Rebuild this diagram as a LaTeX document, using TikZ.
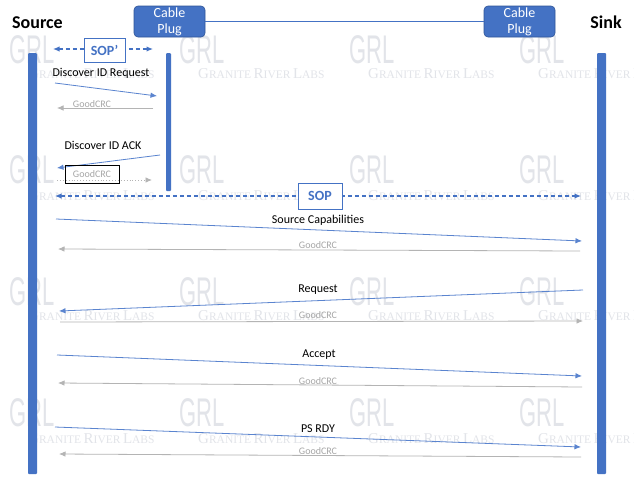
\documentclass[tikz,border=0pt]{standalone}
\usepackage{fontspec}
\setmainfont{Carlito}
\newfontfamily\wmsans{Liberation Sans}
\newfontfamily\wmserif{Liberation Serif}
\usetikzlibrary{arrows.meta}
\definecolor{ublue}{HTML}{4472C4}
\definecolor{mblue}{HTML}{5A84CF}
\definecolor{plugedge}{HTML}{2F5597}
\definecolor{crcgray}{HTML}{A6A6A6}
\definecolor{crcline}{HTML}{B4B4B4}
\definecolor{wmcol}{RGB}{226,228,233}
\newcommand\wmcaps{\wmserif{\fontsize{15}{15}\selectfont G}{\fontsize{11.5}{12}\selectfont RANITE} {\fontsize{15}{15}\selectfont R}{\fontsize{11.5}{12}\selectfont IVER} {\fontsize{15}{15}\selectfont L}{\fontsize{11.5}{12}\selectfont ABS}}
\tikzset{
  wmgrl/.style={font=\wmsans\fontsize{40}{40}\selectfont, text=wmcol, inner sep=0},
  wmcap/.style={text=wmcol, inner sep=0, anchor=west},
  plugbox/.style={draw=plugedge, line width=0.6pt, fill=ublue, rounded corners=4pt, text=white,
    font=\fontsize{14}{16}\selectfont, align=center, minimum width=71pt, minimum height=31pt, inner sep=0},
  titlelbl/.style={font=\bfseries\fontsize{18}{20}\selectfont, inner sep=0},
  lifeline/.style={fill=ublue, draw=none, rounded corners=1pt, inner sep=0},
  msg/.style={mblue, line width=0.8pt, -{Latex[length=6.5pt,width=5.5pt]}},
  crc/.style={crcline, line width=0.8pt, -{Latex[length=6.5pt,width=5.5pt]}},
  crcdot/.style={crcline, line width=0.9pt, dotted, -{Latex[length=6.5pt,width=5.5pt]}},
  msglbl/.style={font=\fontsize{12}{14}\selectfont, inner sep=0},
  crclbl/.style={font=\fontsize{10}{12}\selectfont, text=crcgray, inner sep=0},
  sopline/.style={ublue, line width=1.2pt, dash pattern=on 4pt off 3pt,
    {Latex[length=6.5pt,width=5.5pt]}-{Latex[length=6.5pt,width=5.5pt]}},
  sopbox/.style={draw=ublue, line width=1pt, fill=white, text=ublue,
    font=\bfseries\fontsize{14}{16}\selectfont, inner sep=0},
  crcbox/.style={draw=black, line width=0.8pt, minimum width=54pt, minimum height=18pt, inner sep=0,
    font=\fontsize{10}{12}\selectfont, text=crcgray}
}
\begin{document}
\begin{tikzpicture}[x=1pt,y=-1pt]
\useasboundingbox[fill=white] (0,0) rectangle (634,477);
% watermarks
\foreach \c in {0,1,2,3}{
  \foreach \r/\gy/\cy in {0/50/74, 1/170/196, 2/292/316, 3/413/439}{
    \node[wmgrl] (grl-\c-\r) at ({32+170*\c},\gy) {\scalebox{0.55}[1]{GRL}};
    \node[wmcap] (cap-\c-\r) at ({28+170*\c},\cy) {\wmcaps};
  }
}
% titles and cable plugs
\node[titlelbl] (src) at (37.5,23) {Source};
\node[titlelbl] (snk) at (606,22) {Sink};
\node[plugbox] (plugL) at (169.5,21.5) {Cable\\Plug};
\node[plugbox] (plugR) at (519.5,21.5) {Cable\\Plug};
\draw[ublue, line width=1.6pt] (plugL.east) -- (plugR.west);
% lifelines
\node[lifeline, minimum width=9pt, minimum height=421pt] (srcline) at (32.5,263.5) {};
\node[lifeline, minimum width=5pt, minimum height=138pt] (plugline) at (168.5,122) {};
\node[lifeline, minimum width=9pt, minimum height=421pt] (snkline) at (601.5,263.5) {};
% SOP'
\coordinate (sp1) at (53,49); \coordinate (sp2) at (153,49);
\draw[sopline] (sp1) -- (sp2);
\node[sopbox, minimum width=41pt, minimum height=24pt] (sopp) at (104.5,50) {SOP’};
% Discover ID Request
\coordinate (m1s) at (55,83); \coordinate (m1e) at (157,96);
\draw[msg] (m1s) -- (m1e);
\node[msglbl] (l1) at (101,73) {Discover ID Request};
\coordinate (c1s) at (153,108); \coordinate (c1e) at (57,108);
\draw[crc] (c1s) -- (c1e);
\node[crclbl] (cl1) at (92,104) {GoodCRC};
% Discover ID ACK
\coordinate (m2s) at (160,155); \coordinate (m2e) at (57,168);
\draw[msg] (m2s) -- (m2e);
\node[msglbl] (l2) at (103,145) {Discover ID ACK};
\coordinate (c2s) at (57,180); \coordinate (c2e) at (152,180);
\draw[crcdot] (c2s) -- (c2e);
\node[crcbox] (cl2) at (92,174.5) {GoodCRC};
% SOP
\coordinate (s1) at (55,196); \coordinate (s2) at (581,196);
\draw[sopline] (s1) -- (s2);
\node[sopbox, minimum width=44pt, minimum height=26pt] (sop) at (320,196) {SOP};
% Source Capabilities
\coordinate (m3s) at (56,219); \coordinate (m3e) at (582,241);
\draw[msg] (m3s) -- (m3e);
\node[msglbl] (l3) at (318,220) {Source Capabilities};
\coordinate (c3s) at (580,251); \coordinate (c3e) at (58,249);
\draw[crc] (c3s) -- (c3e);
\node[crclbl] (cl3) at (318,245) {GoodCRC};
% Request
\coordinate (m4s) at (583,290); \coordinate (m4e) at (59,311);
\draw[msg] (m4s) -- (m4e);
\node[msglbl] (l4) at (318,290) {Request};
\coordinate (c4s) at (60,322); \coordinate (c4e) at (583,321);
\draw[crc] (c4s) -- (c4e);
\node[crclbl] (cl4) at (318,315) {GoodCRC};
% Accept
\coordinate (m5s) at (57,355); \coordinate (m5e) at (582,376);
\draw[msg] (m5s) -- (m5e);
\node[msglbl] (l5) at (319,355) {Accept};
\coordinate (c5s) at (582,387); \coordinate (c5e) at (58,383);
\draw[crc] (c5s) -- (c5e);
\node[crclbl] (cl5) at (318,381) {GoodCRC};
% PS RDY
\coordinate (m6s) at (55,427); \coordinate (m6e) at (581,447);
\draw[msg] (m6s) -- (m6e);
\node[msglbl] (l6) at (318,429) {PS RDY};
\coordinate (c6s) at (581,457); \coordinate (c6e) at (59,454);
\draw[crc] (c6s) -- (c6e);
\node[crclbl] (cl6) at (318,451) {GoodCRC};
\end{tikzpicture}
\end{document}
